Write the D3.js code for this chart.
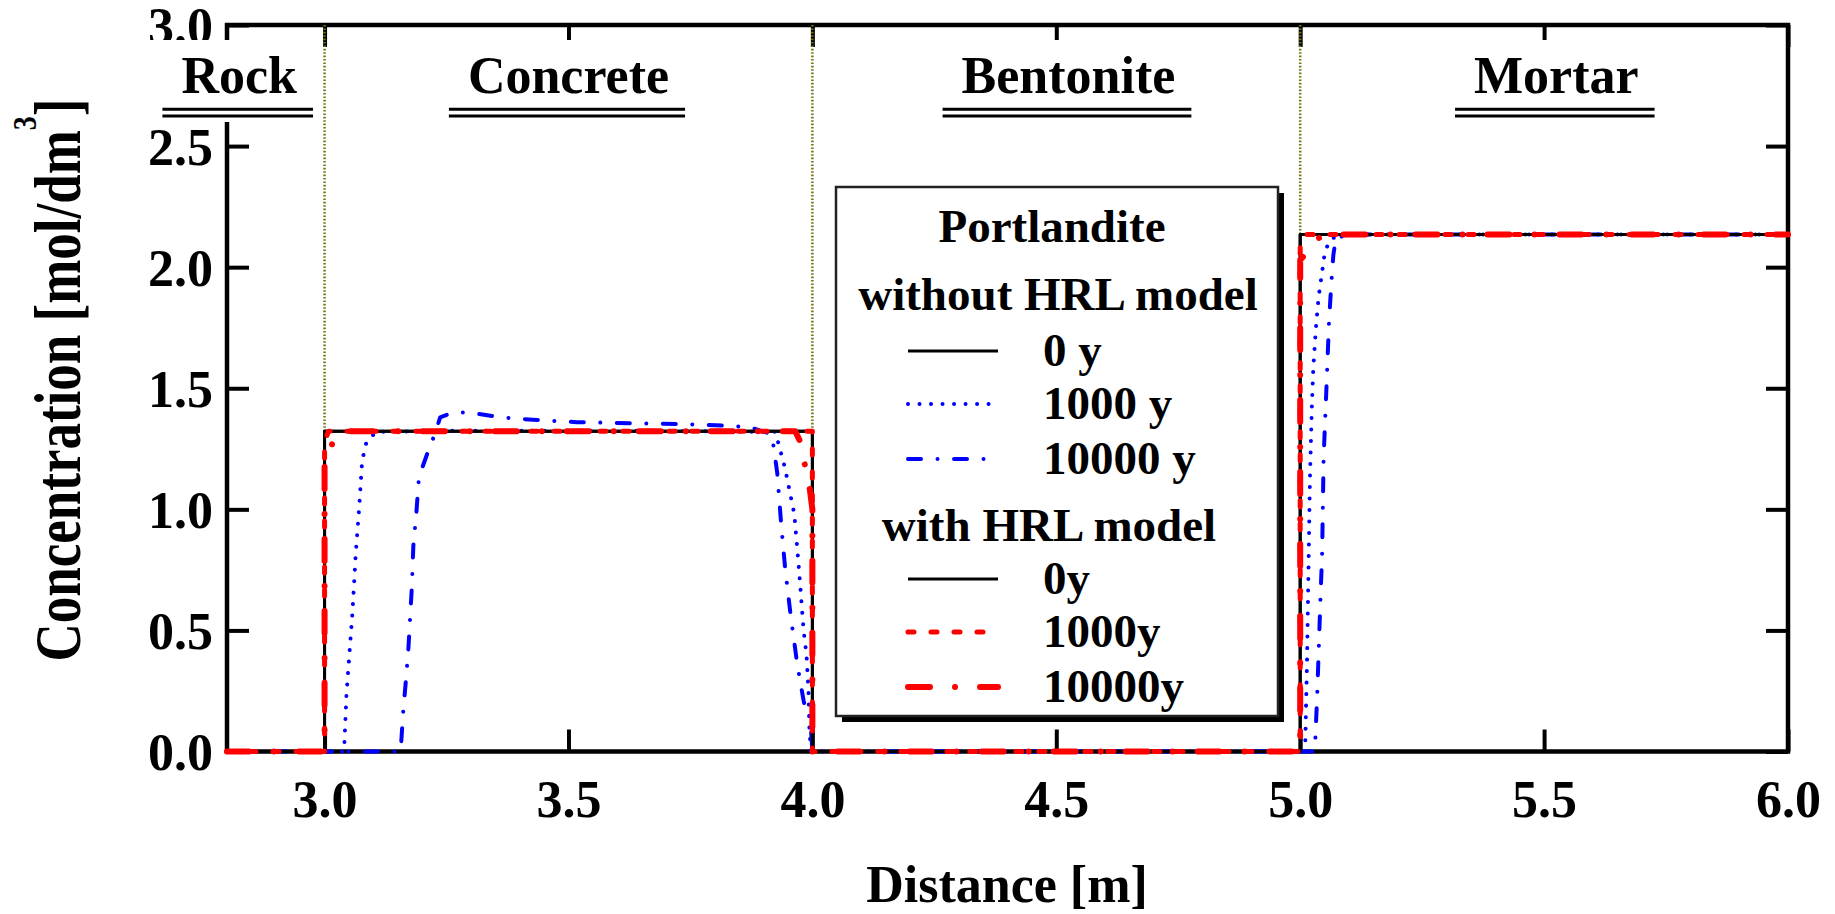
<!DOCTYPE html>
<html><head><meta charset="utf-8">
<script src="https://cdn.jsdelivr.net/npm/d3@7/dist/d3.min.js"></script>
<style>
body{margin:0;background:#fff}
text{font-family:"Liberation Serif","Times New Roman",serif;font-weight:bold;fill:#000}
</style>
</head><body>
<svg id="chart" width="1835" height="914"></svg>
<script>
// ---------- data ----------
const xTicks = [3.0, 3.5, 4.0, 4.5, 5.0, 5.5, 6.0];
const yTicks = [0.0, 0.5, 1.0, 1.5, 2.0, 2.5, 3.0];
const regionNames = ["Rock", "Concrete", "Bentonite", "Mortar"];
const regionLabelX = [2.825, 3.5, 4.525, 5.525];
const regionBoundaries = [3.0, 4.0, 5.0];

const legendTitle = "Portlandite";
const groupTitles = ["without HRL model", "with HRL model"];
const seriesLabels = ["0 y", "1000 y", "10000 y", "0y", "1000y", "10000y"];

// without HRL model, 0 y
const noHrl0_x = [2.8, 3.0, 3.0, 4.0, 4.0, 5.0, 5.0, 6.0];
const noHrl0_c = [0, 0, 1.322, 1.322, 0, 0, 2.135, 2.135];
// without HRL model, 1000 y
const noHrl1000_x = [2.8, 3.040, 3.045, 3.057, 3.064, 3.071, 3.077, 3.086, 3.106, 3.3, 3.6, 3.924, 3.944, 3.963, 3.969, 3.975, 3.982, 3.988, 3.992, 3.994, 3.997,
  5.010, 5.014, 5.017, 5.020, 5.024, 5.027, 5.033, 5.038, 5.045, 5.051, 5.065, 5.1, 6.0];
const noHrl1000_c = [0, 0, 0.24, 0.57, 0.82, 1.01, 1.20, 1.28, 1.32, 1.325, 1.325, 1.32, 1.17, 0.98, 0.84, 0.69, 0.50, 0.40, 0.25, 0.09, 0,
  0, 0.37, 0.75, 1.13, 1.43, 1.59, 1.77, 1.88, 1.98, 2.07, 2.12, 2.135, 2.135];
// without HRL model, 10000 y
const noHrl10000_x = [2.8, 3.156, 3.161, 3.167, 3.172, 3.175, 3.179, 3.182, 3.188, 3.193, 3.200, 3.207, 3.216, 3.226, 3.237, 3.264, 3.298, 3.36, 3.427, 3.517, 3.65, 3.774, 3.87,
  3.917, 3.928, 3.936, 3.944, 3.955, 3.969, 3.982, 3.988, 3.995, 4.0,
  5.030, 5.035, 5.041, 5.045, 5.048, 5.054, 5.059, 5.064, 5.068, 5.073, 5.1, 6.0];
const noHrl10000_c = [0, 0, 0.16, 0.30, 0.43, 0.54, 0.68, 0.85, 0.98, 1.12, 1.17, 1.21, 1.26, 1.31, 1.38, 1.40, 1.40, 1.38, 1.37, 1.36, 1.355, 1.35, 1.34,
  1.31, 1.15, 0.94, 0.76, 0.57, 0.36, 0.21, 0.16, 0.16, 0,
  0, 0.24, 0.60, 0.82, 1.21, 1.51, 1.77, 1.94, 2.05, 2.12, 2.135, 2.135];
// with HRL model, 0y
const hrl0_x = [2.8, 3.0, 3.0, 4.0, 4.0, 5.0, 5.0, 6.0];
const hrl0_c = [0, 0, 1.322, 1.322, 0, 0, 2.135, 2.135];
// with HRL model, 1000y
const hrl1000_x = [2.8, 3.0, 3.0, 3.008, 4.0, 4.0, 5.0, 5.0, 5.008, 6.0];
const hrl1000_c = [0, 0, 1.28, 1.322, 1.322, 0, 0, 2.09, 2.135, 2.135];
// with HRL model, 10000y
const hrl10000_x = [2.8, 3.0, 3.0, 3.014, 3.017, 3.038, 3.5, 3.965, 3.975, 3.985, 3.995, 4.0, 4.0, 5.0, 5.0, 5.014, 5.038, 5.06, 6.0];
const hrl10000_c = [0, 0, 1.22, 1.26, 1.28, 1.322, 1.322, 1.322, 1.28, 1.18, 1.08, 1.0, 0, 0, 2.03, 2.06, 2.12, 2.135, 2.135];

// ---------- styles ----------
const styles = [
  {color: "#000", width: 3, dash: null, cap: "butt"},
  {color: "#0000ff", width: 4, dash: "0.01,11.5", cap: "round"},
  {color: "#0000ff", width: 4, dash: "13,16.5,0.01,16.5", cap: "round"},
  {color: "#000", width: 3, dash: null, cap: "butt"},
  {color: "#ff0000", width: 5, dash: "6,17", cap: "round"},
  {color: "#ff0000", width: 6, dash: "22,25,0.01,25", cap: "round"}
];
const seriesX = [noHrl0_x, noHrl1000_x, noHrl10000_x, hrl0_x, hrl1000_x, hrl10000_x];
const seriesC = [noHrl0_c, noHrl1000_c, noHrl10000_c, hrl0_c, hrl1000_c, hrl10000_c];

// ---------- chart ----------
const svg = d3.select("#chart");
const L = 227, R = 1788, T = 25, B = 751.5;
const x = d3.scaleLinear().domain([2.8, 6.0]).range([L, R]);
const y = d3.scaleLinear().domain([0, 3]).range([B, T]);
const FS = 52, TICK = 22;
const fmt = d3.format(".1f");

// frame
svg.append("rect").attr("x", L).attr("y", T).attr("width", R - L).attr("height", B - T)
  .attr("fill", "none").attr("stroke", "#000").attr("stroke-width", 4.5);

function styleAxis(g) {
  g.select(".domain").remove();
  g.selectAll(".tick line").attr("stroke", "#000").attr("stroke-width", 4);
}
const gb = svg.append("g").attr("transform", `translate(0,${B})`)
  .call(d3.axisBottom(x).tickValues(xTicks).tickSize(-TICK).tickFormat(fmt)).call(styleAxis);
gb.selectAll(".tick text").attr("y", 65.5).attr("dy", 0).attr("font-size", FS)
  .attr("font-family", null).attr("fill", "#000");
const gt = svg.append("g").attr("transform", `translate(0,${T})`)
  .call(d3.axisTop(x).tickValues(xTicks).tickSize(-TICK).tickFormat("")).call(styleAxis);
const gl = svg.append("g").attr("transform", `translate(${L},0)`)
  .call(d3.axisLeft(y).tickValues(yTicks).tickSize(-TICK).tickFormat(fmt)).call(styleAxis);
gl.selectAll(".tick text").attr("x", -14).attr("dy", 18).attr("font-size", FS)
  .attr("font-family", null).attr("fill", "#000");
const gr = svg.append("g").attr("transform", `translate(${R},0)`)
  .call(d3.axisRight(y).tickValues(yTicks).tickSize(-TICK).tickFormat("")).call(styleAxis);
svg.selectAll(".tick text").style("font-family", '"Liberation Serif","Times New Roman",serif').style("font-weight", "bold");

// region labels (white background, double underline)
const regionG = svg.append("g");
regionNames.forEach((name, i) => {
  const g = regionG.append("g");
  const bg = g.append("rect").attr("fill", "#fff");
  const t = g.append("text").attr("x", x(regionLabelX[i])).attr("y", 93)
    .attr("text-anchor", "middle").attr("font-size", FS).text(name);
  const bb = t.node().getBBox();
  const x0 = bb.x - 19, x1 = bb.x + bb.width + 16;
  bg.attr("x", x0 - 20).attr("y", 40).attr("width", x1 - x0 + 23).attr("height", 82);
  [109.3, 115.9].forEach(yy => g.append("line").attr("x1", x0).attr("x2", x1)
    .attr("y1", yy).attr("y2", yy).attr("stroke", "#000").attr("stroke-width", 3));
});

// region boundaries (dotted olive)
svg.append("g").selectAll("line").data(regionBoundaries).join("line")
  .attr("x1", d => x(d)).attr("x2", d => x(d)).attr("y1", T).attr("y2", B)
  .attr("stroke", "#74740a").attr("stroke-width", 2.5).attr("stroke-dasharray", "1.6,1.8");

// data lines
const line = d3.line().x(d => x(d[0])).y(d => y(d[1]));
const dataG = svg.append("g");
seriesX.forEach((xs, i) => {
  const pts = xs.map((v, k) => [v, seriesC[i][k]]);
  const s = styles[i];
  dataG.append("path").datum(pts).attr("d", line).attr("fill", "none")
    .attr("stroke", s.color).attr("stroke-width", s.width)
    .attr("stroke-dasharray", s.dash).attr("stroke-linecap", s.cap)
    .attr("stroke-linejoin", "round");
});

// axis titles
svg.append("text").attr("x", 1007).attr("y", 902).attr("text-anchor", "middle")
  .attr("font-size", FS).text("Distance [m]");
const yl = svg.append("text").attr("transform", "translate(80,380) rotate(-90) scale(1,1.22)")
  .attr("text-anchor", "middle").attr("font-size", 53);
yl.append("tspan").text("Concentration [mol/dm");
yl.append("tspan").attr("font-size", 28).attr("dy", -36).text("3");
yl.append("tspan").attr("dy", 36).text("]");

// legend
const LX = 836, LY = 187, LW = 442, LH = 529;
const lg = svg.append("g");
lg.append("rect").attr("x", LX + 6).attr("y", LY + 6).attr("width", LW).attr("height", LH).attr("fill", "#000");
lg.append("rect").attr("x", LX).attr("y", LY).attr("width", LW).attr("height", LH)
  .attr("fill", "#fff").attr("stroke", "#222").attr("stroke-width", 2.5);
const LFS = 47;
lg.append("text").attr("x", 1052).attr("y", 242).attr("text-anchor", "middle").attr("font-size", LFS).text(legendTitle);
const groupY = [310, 541], groupCX = [1058, 1049];
groupTitles.forEach((t, i) => lg.append("text").attr("x", groupCX[i]).attr("y", groupY[i])
  .attr("text-anchor", "middle").attr("font-size", LFS).text(t));
const rowBase = [366, 419, 474, 594, 647, 702];
seriesLabels.forEach((lab, i) => {
  const s = styles[i];
  const ly = rowBase[i] - 15;
  lg.append("line").attr("x1", 908).attr("x2", 998).attr("y1", ly).attr("y2", ly)
    .attr("stroke", s.color).attr("stroke-width", s.width)
    .attr("stroke-dasharray", s.dash).attr("stroke-linecap", s.cap);
  lg.append("text").attr("x", 1043).attr("y", rowBase[i]).attr("font-size", LFS).text(lab);
});
</script>
</body></html>
